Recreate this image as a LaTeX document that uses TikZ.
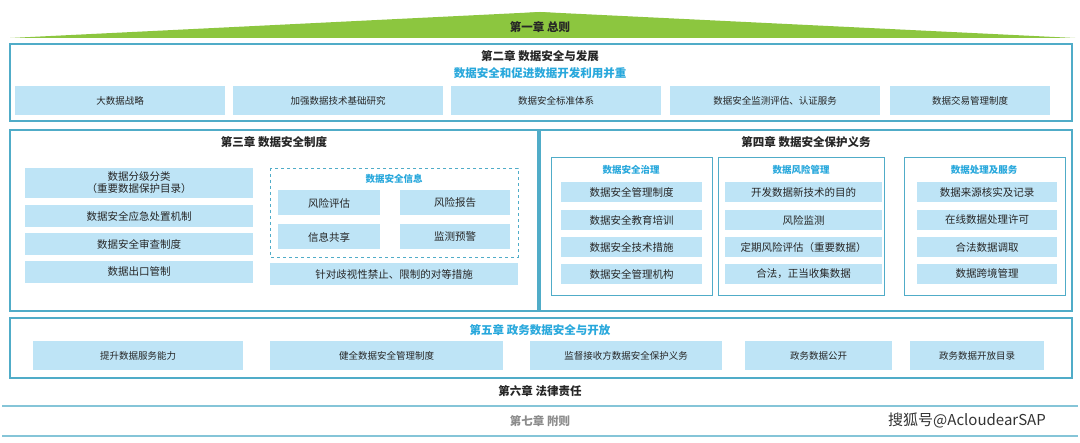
\documentclass[tikz,border=0pt]{standalone}
\usepackage{fontspec}
\setmainfont{Noto Sans CJK SC}
\begin{document}
\begin{tikzpicture}[x=1pt,y=-1pt,
  bx/.style={fill=boxc,draw=none,inner sep=0pt,font=\fontsize{9.5}{11}\selectfont,text=black!85,align=center},
  bxl/.style={bx,font=\fontsize{10.5}{12}\selectfont},
  frame/.style={draw=framec,line width=1.4pt},
  sub/.style={draw=framec,line width=1pt},
  ttl/.style={font=\fontsize{11.5}{13}\selectfont\bfseries,text=black!85},
  bt/.style={font=\fontsize{11.5}{13}\selectfont\bfseries,text=titc},
  st/.style={font=\fontsize{9.5}{11}\selectfont\bfseries,text=titc}]
\definecolor{boxc}{RGB}{190,228,246}
\definecolor{framec}{RGB}{80,172,200}
\definecolor{titc}{RGB}{40,168,220}
\definecolor{greenc}{RGB}{140,198,63}
\useasboundingbox (0,0) rectangle (1080,443);
\fill[white] (0,0) rectangle (1080,443);
% chapter 1
\fill[greenc] (10,38) -- (540,12) -- (1075,38) -- cycle;
\fill[greenc] (200,38) -- (540,12) -- (880,38) -- cycle;
\node[ttl] (c1) at (540,27) {第一章 总则};
% chapter 2
\draw[frame] (10,44) rectangle (1072,121);
\node[ttl] (c2) at (540,56) {第二章 数据安全与发展};
\node[bt] (c2s) at (540,73) {数据安全和促进数据开发利用并重};
\node[bx,minimum width=210,minimum height=29] (a1) at (120,100.5) {大数据战略};
\node[bx,minimum width=210,minimum height=29] (a2) at (338,100.5) {加强数据技术基础研究};
\node[bx,minimum width=210,minimum height=29] (a3) at (556,100.5) {数据安全标准体系};
\node[bx,minimum width=210,minimum height=29] (a4) at (775,100.5) {数据安全监测评估、认证服务};
\node[bx,minimum width=160,minimum height=29] (a5) at (970,100.5) {数据交易管理制度};
% chapter 3
\draw[frame] (10,130) rectangle (538,311);
\node[ttl] (c3) at (274,142) {第三章 数据安全制度};
\node[bxl,minimum width=228,minimum height=30] (b1) at (139,183) {数据分级分类\\（重要数据保护目录）};
\node[bxl,minimum width=228,minimum height=22] (b2) at (139,216) {数据安全应急处置机制};
\node[bxl,minimum width=228,minimum height=22] (b3) at (139,244) {数据安全审查制度};
\node[bxl,minimum width=228,minimum height=22] (b4) at (139,272) {数据出口管制};
\draw[framec,dashed,line width=0.8pt] (270,168) rectangle (518,257);
\node[st] (inf) at (394,179) {数据安全信息};
\node[bxl,minimum width=102,minimum height=25] (i1) at (329,203) {风险评估};
\node[bxl,minimum width=110,minimum height=25] (i2) at (455,203) {风险报告};
\node[bxl,minimum width=102,minimum height=25] (i3) at (329,237) {信息共享};
\node[bxl,minimum width=110,minimum height=25] (i4) at (455,237) {监测预警};
\node[bxl,minimum width=248,minimum height=22] (i5) at (394,274) {针对歧视性禁止、限制的对等措施};
% chapter 4
\draw[frame] (540,130) rectangle (1072,311);
\node[ttl] (c4) at (806,142) {第四章 数据安全保护义务};
\draw[sub] (551,158) rectangle (712,296);
\draw[sub] (718,158) rectangle (884,296);
\draw[sub] (904,158) rectangle (1065,296);
\node[st] (g1) at (631,170) {数据安全治理};
\node[st] (g2) at (801,170) {数据风险管理};
\node[st] (g3) at (984,170) {数据处理及服务};
\node[bxl,minimum width=141,minimum height=20] (d1) at (631.5,192.5) {数据安全管理制度};
\node[bxl,minimum width=141,minimum height=20] (d2) at (631.5,220) {数据安全教育培训};
\node[bxl,minimum width=141,minimum height=20] (d3) at (631.5,247.5) {数据安全技术措施};
\node[bxl,minimum width=141,minimum height=20] (d4) at (631.5,274) {数据安全管理机构};
\node[bxl,minimum width=157,minimum height=20] (e1) at (803.5,192.5) {开发数据新技术的目的};
\node[bxl,minimum width=157,minimum height=20] (e2) at (803.5,220) {风险监测};
\node[bxl,minimum width=157,minimum height=20] (e3) at (803.5,247.5) {定期风险评估（重要数据）};
\node[bxl,minimum width=157,minimum height=20] (e4) at (803.5,274) {合法，正当收集数据};
\node[bxl,minimum width=140,minimum height=20] (f1) at (987,192.5) {数据来源核实及记录};
\node[bxl,minimum width=140,minimum height=20] (f2) at (987,220) {在线数据处理许可};
\node[bxl,minimum width=140,minimum height=20] (f3) at (987,247.5) {合法数据调取};
\node[bxl,minimum width=140,minimum height=20] (f4) at (987,274) {数据跨境管理};
% chapter 5
\draw[frame] (10,318) rectangle (1072,378);
\node[bt] (c5) at (540,330) {第五章 政务数据安全与开放};
\node[bx,minimum width=210,minimum height=29] (h1) at (138,356) {提升数据服务能力};
\node[bx,minimum width=233,minimum height=29] (h2) at (386.5,356) {健全数据安全管理制度};
\node[bx,minimum width=192,minimum height=29] (h3) at (626,356) {监督接收方数据安全保护义务};
\node[bx,minimum width=147,minimum height=29] (h4) at (818.5,356) {政务数据公开};
\node[bx,minimum width=134,minimum height=29] (h5) at (977,356) {政务数据开放目录};
% chapter 6,7
\node[ttl] (c6) at (540,391) {第六章 法律责任};
\draw[framec!70,line width=1.2pt] (2,406) -- (1078,406);
\draw[framec!70,line width=1.2pt] (2,436) -- (1078,436);
\node[ttl,text=black!45] (c7) at (540,421) {第七章 附则};
\node[font=\fontsize{15}{16}\selectfont,text=black!80] (wm) at (967,420) {搜狐号@AcloudearSAP};
\end{tikzpicture}
\end{document}
